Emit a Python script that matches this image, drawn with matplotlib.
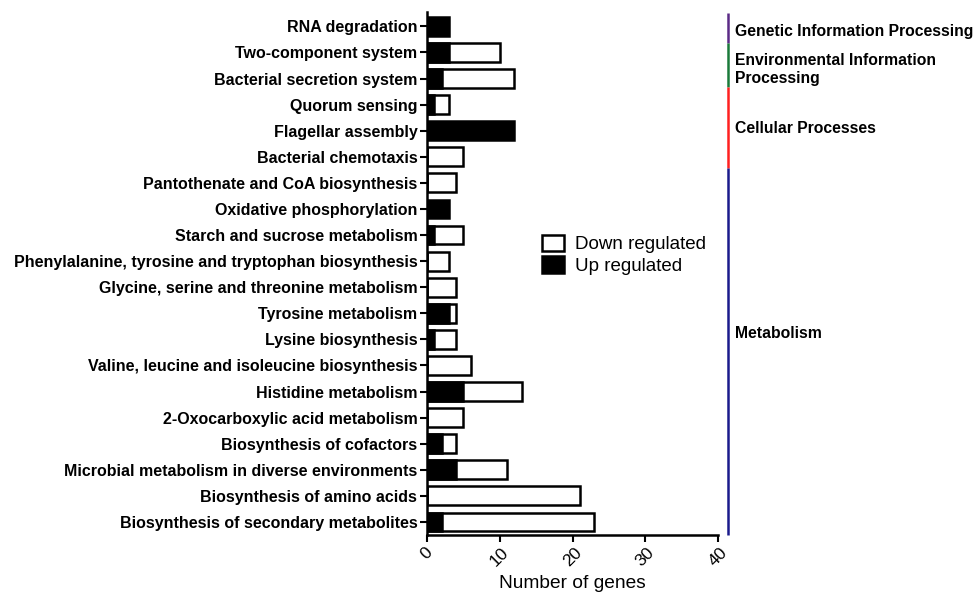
import matplotlib.pyplot as plt
from matplotlib.patches import Patch

plt.rcParams['font.family'] = ['Liberation Sans', 'DejaVu Sans']

# pathways, top to bottom
pathways = [
    'RNA degradation',
    'Two-component system',
    'Bacterial secretion system',
    'Quorum sensing',
    'Flagellar assembly',
    'Bacterial chemotaxis',
    'Pantothenate and CoA biosynthesis',
    'Oxidative phosphorylation',
    'Starch and sucrose metabolism',
    'Phenylalanine, tyrosine and tryptophan biosynthesis',
    'Glycine, serine and threonine metabolism',
    'Tyrosine metabolism',
    'Lysine biosynthesis',
    'Valine, leucine and isoleucine biosynthesis',
    'Histidine metabolism',
    '2-Oxocarboxylic acid metabolism',
    'Biosynthesis of cofactors',
    'Microbial metabolism in diverse environments',
    'Biosynthesis of amino acids',
    'Biosynthesis of secondary metabolites',
]
down = [0, 10, 12, 3, 0, 5, 4, 0, 5, 3, 4, 4, 4, 6, 13, 5, 4, 11, 21, 23]
up = [3, 3, 2, 1, 12, 0, 0, 3, 1, 0, 0, 3, 1, 0, 5, 0, 2, 4, 0, 2]

# KEGG level-1 groups and where their brackets run (row units)
groups = ['Genetic Information Processing', 'Environmental Information\nProcessing',
          'Cellular Processes', 'Metabolism']
group_bounds = [-0.5, 0.65, 2.34, 5.44, 19.5]
group_colors = ['#5b2a86', '#1a7a3a', '#ff2020', '#1a1a8c']
group_label_y = [0.19, 1.65, 3.9, 11.76]

fig = plt.figure(figsize=(9.76, 5.92), dpi=100)
ax = fig.add_axes([0.4375, 0.0963, 0.2982, 0.8834])

y = range(len(pathways))
ax.barh(y, down, height=0.72, color='white', edgecolor='black', linewidth=1.8)
ax.barh(y, up, height=0.72, color='black', edgecolor='black', linewidth=1.8)

ax.set_ylim(19.5, -0.55)
ax.set_xlim(0, 40)
ax.set_yticks(list(y))
ax.set_yticklabels(pathways, fontsize=11.5, fontweight='bold')
ax.set_xticks([0, 10, 20, 30, 40])
ax.set_xticklabels(['0', '10', '20', '30', '40'], rotation=45, fontsize=12.5)
ax.set_xlabel('Number of genes', fontsize=13.8)

for s in ['top', 'right']:
    ax.spines[s].set_visible(False)
for s in ['left', 'bottom']:
    ax.spines[s].set_linewidth(1.8)
ax.tick_params(axis='both', direction='out', length=5, width=1.5, pad=2)

# right-hand group brackets
for i, name in enumerate(groups):
    ax.plot([41.4, 41.4], [group_bounds[i], group_bounds[i + 1]],
            color=group_colors[i], lw=1.8, clip_on=False, solid_capstyle='butt')
    ax.text(42.3, group_label_y[i], name, fontsize=11.3, fontweight='bold',
            va='center', ha='left', linespacing=1.25)

handles = [Patch(facecolor='white', edgecolor='black', linewidth=1.8, label='Down regulated'),
           Patch(facecolor='black', edgecolor='black', linewidth=1.8, label='Up regulated')]
fig.legend(handles=handles, loc='upper left', bbox_to_anchor=(0.542, 0.626),
           frameon=False, fontsize=13.5, handlelength=1.15, handleheight=1.0,
           handletextpad=0.6, labelspacing=0.15, borderpad=0.2)

fig.savefig('out.png', dpi=100)
